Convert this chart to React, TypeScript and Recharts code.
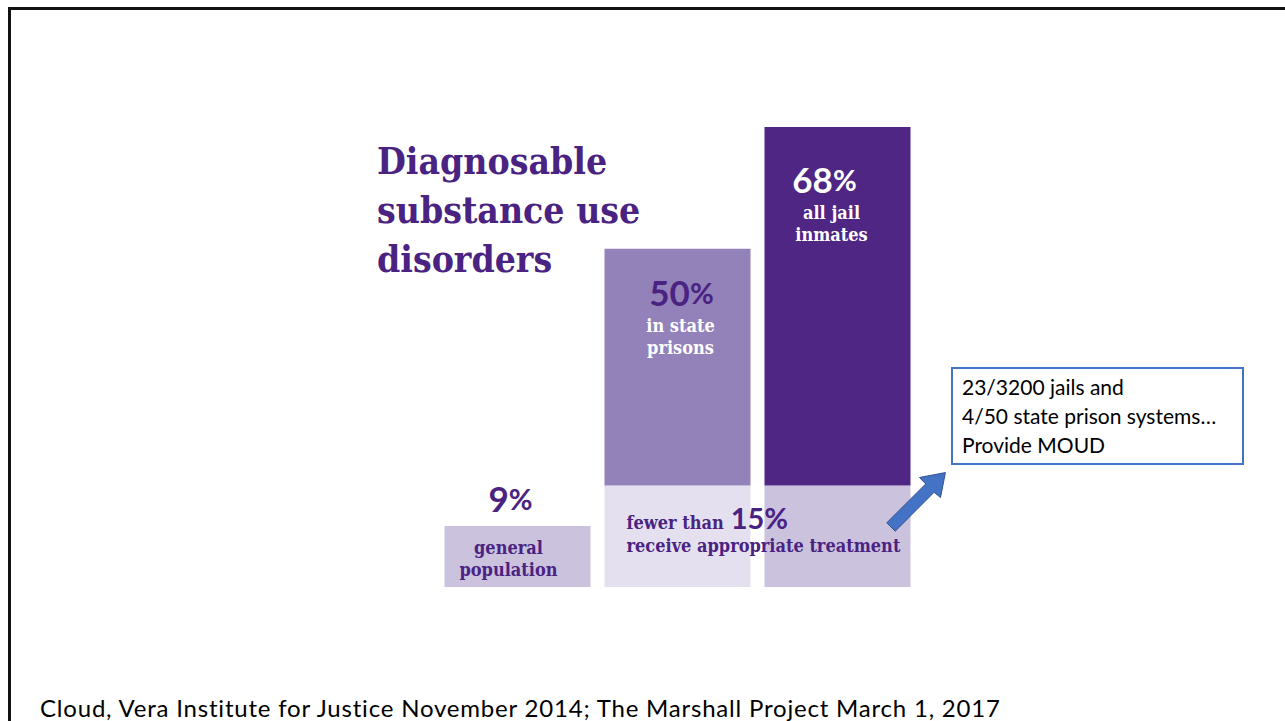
import { BarChart, Bar, XAxis, YAxis, Cell, LabelList } from 'recharts';

const categories = ['general population', 'in state prisons', 'all jail inmates'];
const disorderPct = [9, 50, 68];
const treatedBandPct = [0, 15, 15];
const subLabels = [
  ['general', 'population'],
  ['in state', 'prisons'],
  ['all jail', 'inmates'],
];
const treatmentLines = ['fewer than', 'receive appropriate treatment'];

const lowerColors = ['#cbc2de', '#e5e0ef', '#cbc2de'];
const upperColors = ['#cbc2de', '#9381b9', '#4f2683'];
const pctColors = ['#4a2382', '#4a2382', '#ffffff'];
const subColors = ['#4a2382', '#ffffff', '#ffffff'];

const PURPLE = '#4a2382';
const SERIF = "'DejaVu Serif Condensed', 'DejaVu Serif', serif";
const SANS = "Lato, 'Open Sans', sans-serif";

const chartData = categories.map((name, i) => {
  const lower = treatedBandPct[i] || disorderPct[i];
  return { name, lower, upper: disorderPct[i] - lower, total: disorderPct[i], band: treatedBandPct[i] };
});

// small nudges so the text sits where the original artwork put it
const pctShift = [-7, 4, -13];
const subShift = [-9, 3, -6];

// labels hang off the top of each whole stack, worked out from the lower segment
function renderLabels(props: any) {
  const { x, y, width, height, index } = props;
  const row = chartData[index];
  const unit = height / row.lower;
  const top = y - row.upper * unit;
  const cx = x + width / 2;
  const above = row.upper === 0;
  const pctY = above ? top - 14 : top + (index === 1 ? 57 : 66);
  const subY = above ? top + 28 : pctY + 26;
  return (
    <g>
      <text x={cx + pctShift[index]} y={pctY} textAnchor="middle" fill={pctColors[index]} fontFamily={SANS} fontWeight={700} fontSize={35}>
        {row.total}
        <tspan fontSize={29} dy={-2}>%</tspan>
      </text>
      {subLabels[index].map((s, k) => (
        <text key={s} x={cx + subShift[index]} y={subY + k * 22} textAnchor="middle" fill={subColors[index]} fontFamily={SERIF} fontWeight={700} fontSize={18}>
          {s}
        </text>
      ))}
      {index === 1 && row.band > 0 && (
        <g>
          <text x={x + 22} y={y + 43} fill={PURPLE} fontFamily={SERIF} fontWeight={700} fontSize={18}>
            {treatmentLines[0]}
            <tspan dx={7} fontFamily={SANS} fontSize={29}>{row.band}%</tspan>
          </text>
          <text x={x + 22} y={y + 66} fill={PURPLE} fontFamily={SERIF} fontWeight={700} fontSize={18}>
            {treatmentLines[1]}
          </text>
        </g>
      )}
    </g>
  );
}

export default function App() {
  return (
    <div style={{ position: 'fixed', left: 0, top: 0, width: 1285, height: 721, background: '#fff', overflow: 'hidden' }}>
      <div style={{ position: 'absolute', left: 8, top: 7, width: 1300, height: 730, borderTop: '3px solid #111', borderLeft: '3px solid #111' }} />

      <BarChart
        width={1285}
        height={721}
        data={chartData}
        margin={{ top: 127, right: 367.5, bottom: 134, left: 437.5 }}
        barSize={146}
        style={{ position: 'absolute', left: 0, top: 0 }}
      >
        <XAxis dataKey="name" hide />
        <YAxis hide domain={[0, 68]} />
        <Bar dataKey="lower" stackId="a" isAnimationActive={false}>
          {chartData.map((d, i) => (
            <Cell key={d.name} fill={lowerColors[i]} />
          ))}
          <LabelList dataKey="lower" content={renderLabels} />
        </Bar>
        <Bar dataKey="upper" stackId="a" isAnimationActive={false}>
          {chartData.map((d, i) => (
            <Cell key={d.name} fill={upperColors[i]} />
          ))}
        </Bar>
      </BarChart>

      <div
        style={{
          position: 'absolute',
          left: 377,
          top: 137,
          color: PURPLE,
          fontFamily: SERIF,
          fontStretch: 'condensed',
          fontWeight: 700,
          fontSize: 37,
          lineHeight: '49px',
        }}
      >
        Diagnosable
        <br />
        substance use
        <br />
        disorders
      </div>

      <svg width={1285} height={721} style={{ position: 'absolute', left: 0, top: 0, pointerEvents: 'none' }}>
        <polygon
          points="895.2,531.2 934.1,492.3 940.5,497.5 945.4,472.6 919.5,477.5 925.7,483.9 886.8,522.8"
          fill="#4472c4"
          stroke="#2f528f"
          strokeWidth={1}
        />
      </svg>

      <div
        style={{
          position: 'absolute',
          left: 951,
          top: 367,
          width: 293,
          height: 98,
          border: '2px solid #4472c4',
          boxSizing: 'border-box',
          fontFamily: SANS,
          fontSize: 21,
          lineHeight: '29px',
          color: '#000',
        }}
      >
        <div style={{ position: 'absolute', left: 9, top: 3, whiteSpace: 'nowrap' }}>
          23/3200 jails and
          <br />
          4/50 state prison systems…
          <br />
          Provide MOUD
        </div>
      </div>

      <div
        style={{
          position: 'absolute',
          left: 40,
          top: 696,
          fontFamily: SANS,
          fontSize: 24,
          lineHeight: '24px',
          letterSpacing: 0.8,
          color: '#000',
          whiteSpace: 'nowrap',
        }}
      >
        Cloud, Vera Institute for Justice November 2014; The Marshall Project March 1, 2017
      </div>
    </div>
  );
}
